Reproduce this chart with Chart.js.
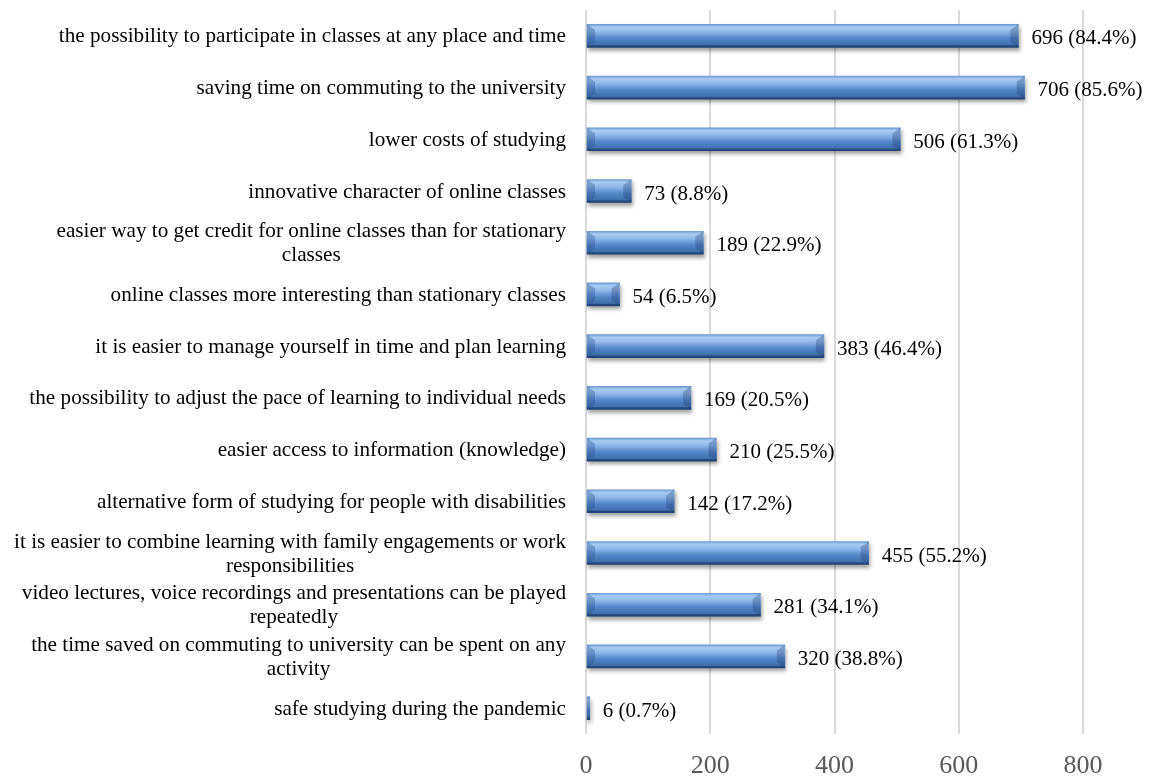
<!DOCTYPE html>
<html>
<head>
<meta charset="utf-8">
<script src="https://cdn.jsdelivr.net/npm/chart.js@4.4.1/dist/chart.umd.min.js"></script>
<style>
html,body{margin:0;padding:0;background:#fff;}
#wrap{width:1149px;height:776px;position:relative;}
</style>
</head>
<body>
<div id="wrap"><canvas id="c" width="1149" height="776"></canvas></div>
<script>
const categories = [
  ["the possibility to participate in classes at any place and time"],
  ["saving time on commuting to the university "],
  ["lower costs of studying"],
  ["innovative character of online classes "],
  ["easier way to get credit for online classes than for stationary", "classes"],
  ["online classes more interesting than stationary classes"],
  ["it is easier to manage yourself in time and plan learning"],
  ["the possibility to adjust the pace of learning to individual needs "],
  ["easier access to information (knowledge)"],
  ["alternative form of studying for people with disabilities"],
  ["it is easier to combine learning with family engagements or work", "responsibilities"],
  ["video lectures, voice recordings and presentations can be played", "repeatedly"],
  ["the time saved on commuting to university can be spent on any", "activity"],
  ["safe studying during the pandemic"]
];
const counts = [696, 706, 506, 73, 189, 54, 383, 169, 210, 142, 455, 281, 320, 6];
const percents = ["84.4", "85.6", "61.3", "8.8", "22.9", "6.5", "46.4", "20.5", "25.5", "17.2", "55.2", "34.1", "38.8", "0.7"];
const xTicks = [0, 200, 400, 600, 800];

const FONT = "'Liberation Serif', 'Times New Roman', serif";
const BAR_T = 23;

function barGradient(ctx) {
  const chart = ctx.chart;
  const ys = chart.scales && chart.scales.y;
  if (!ys || !chart.chartArea || ctx.dataIndex === undefined) return '#4F81BD';
  const yc = ys.getPixelForValue(ctx.dataIndex);
  const g = chart.ctx.createLinearGradient(0, yc - BAR_T / 2, 0, yc + BAR_T / 2);
  g.addColorStop(0, '#6E9BD3');
  g.addColorStop(0.12, '#A8CBF3');
  g.addColorStop(0.32, '#8FB8E9');
  g.addColorStop(0.6, '#5287C9');
  g.addColorStop(0.88, '#3F70AE');
  g.addColorStop(1, '#2A5284');
  return g;
}

const barFx = {
  id: 'barFx',
  beforeDatasetsDraw(chart) {
    const c = chart.ctx;
    c.save();
    c.shadowColor = 'rgba(0,0,0,0.38)';
    c.shadowBlur = 4;
    c.shadowOffsetX = 1;
    c.shadowOffsetY = 3;
  },
  afterDatasetsDraw(chart) {
    const c = chart.ctx;
    c.restore();
    const meta = chart.getDatasetMeta(0);
    c.save();
    meta.data.forEach((bar, i) => {
      const p = bar.getProps(['x', 'y', 'base', 'height'], true);
      const top = p.y - p.height / 2, bot = p.y + p.height / 2;
      const len = p.x - p.base;
      const b = Math.min(8, len / 2);
      if (b < 1) return;
      c.fillStyle = 'rgba(25,55,105,0.30)';
      c.beginPath();
      c.moveTo(p.x, top); c.lineTo(p.x, bot); c.lineTo(p.x - b, bot - b * 0.7); c.lineTo(p.x - b, top + b * 0.7); c.closePath();
      c.fill();
      c.fillStyle = 'rgba(40,80,140,0.35)';
      c.beginPath();
      c.moveTo(p.base, top); c.lineTo(p.base + b, top + b * 0.7); c.lineTo(p.base + b, bot - b * 0.7); c.lineTo(p.base, bot); c.closePath();
      c.fill();
      c.fillStyle = 'rgba(20,45,90,0.45)';
      c.fillRect(p.base, bot - 2, len, 2);
    });
    // data labels
    c.font = '21px ' + FONT;
    c.fillStyle = '#000';
    c.textAlign = 'left';
    c.textBaseline = 'middle';
    meta.data.forEach((bar, i) => {
      const p = bar.getProps(['x', 'y'], true);
      c.fillText(counts[i] + ' (' + percents[i] + '%)', p.x + 13, p.y + 3);
    });
    // category labels
    c.font = '21.2px ' + FONT;
    c.textBaseline = 'middle';
    c.textAlign = 'center';
    const ys = chart.scales.y;
    const rightEdge = chart.chartArea.left - 20;
    categories.forEach((lines, i) => {
      const yc = ys.getPixelForValue(i);
      const widths = lines.map(l => c.measureText(l.trimEnd()).width);
      const maxW = Math.max(...widths);
      const cx = rightEdge - maxW / 2;
      const lh = 24;
      const y0 = yc + 1 - (lines.length - 1) * lh / 2;
      lines.forEach((l, k) => c.fillText(l.trimEnd(), cx, y0 + k * lh));
    });
    c.restore();
  }
};

new Chart(document.getElementById('c'), {
  type: 'bar',
  data: {
    labels: categories.map(l => l.join(' ')),
    datasets: [{
      data: counts,
      backgroundColor: barGradient,
      borderWidth: 0,
      barThickness: BAR_T
    }]
  },
  options: {
    indexAxis: 'y',
    responsive: false,
    animation: false,
    devicePixelRatio: 1,
    layout: { padding: { left: 586, right: 66, top: 10, bottom: 0 } },
    plugins: { legend: { display: false }, tooltip: { enabled: false } },
    scales: {
      x: {
        min: 0, max: 800,
        afterBuildTicks(scale) { scale.ticks = xTicks.map(v => ({ value: v })); },
        afterFit(scale) { scale.height = 42; },
        grid: { color: '#D9D9D9', lineWidth: 2, drawTicks: false },
        border: { display: false },
        ticks: { padding: 17, color: '#595959', font: { family: FONT, size: 26 } }
      },
      y: {
        display: false,
        grid: { display: false }
      }
    }
  },
  plugins: [barFx]
});
</script>
</body>
</html>
